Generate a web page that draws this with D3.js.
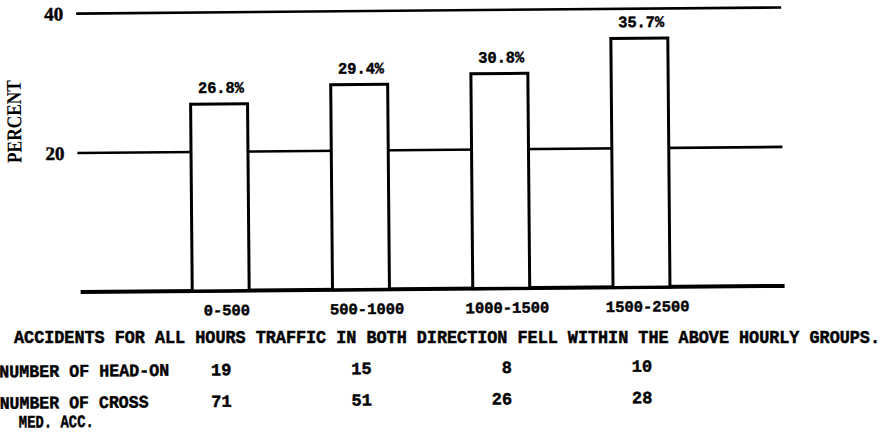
<!DOCTYPE html>
<html>
<head>
<meta charset="utf-8">
<script src="https://cdn.jsdelivr.net/npm/d3@7"></script>
<style>
  body { margin: 0; background: #ffffff; }
  svg { display: block; }
  .type { stroke: #000; stroke-width: 0.45px; }
</style>
</head>
<body>
<div id="chart"></div>
<script>
// data
var categories = ["0-500", "500-1000", "1000-1500", "1500-2500"];
var percents = [26.8, 29.4, 30.8, 35.7];
var headOn = [19, 15, 8, 10];
var crossMed = [71, 51, 26, 28];
var yTicks = [20, 40];

var rowLabels = ["NUMBER OF HEAD-ON", "NUMBER OF CROSS"];
var footNote = "ACCIDENTS FOR ALL HOURS TRAFFIC IN BOTH DIRECTION  FELL WITHIN THE ABOVE HOURLY GROUPS.";

var W = 888, H = 438;
var plot = { left: 78, right: 783, top: 10, bottom: 289 };

var typeFont = "'Liberation Mono', 'DejaVu Sans Mono', monospace";
var serifFont = "'Liberation Serif', 'DejaVu Serif', serif";
var ink = "#000000";

var svg = d3.select("#chart")
    .append("svg")
    .attr("width", W)
    .attr("height", H);

// the scan is slightly tilted, so the chart body gets a small rotation
var g = svg.append("g")
    .attr("transform", "rotate(-0.5, 430, 220)");

var x = d3.scaleBand()
    .domain(categories)
    .range([plot.left, plot.right])
    .paddingInner(0.594)
    .paddingOuter(0.81);

var y = d3.scaleLinear()
    .domain([0, 40])
    .range([plot.bottom, plot.top]);

// horizontal rules at 20 and 40
var yAxis = g.append("g")
    .attr("transform", "translate(" + plot.left + ",0)")
    .call(d3.axisLeft(y)
        .tickValues(yTicks)
        .tickSize(-(plot.right - plot.left))
        .tickPadding(13)
        .tickFormat(d3.format("d")));

yAxis.select(".domain").remove();
yAxis.selectAll(".tick line")
    .attr("stroke", ink)
    .attr("stroke-width", 2.6);
yAxis.selectAll(".tick text")
    .attr("class", "type")
    .attr("fill", ink)
    .attr("dy", "0.35em")
    .style("font-family", serifFont)
    .style("font-weight", "bold")
    .style("font-size", "19px");

// baseline
g.append("line")
    .attr("x1", plot.left + 2)
    .attr("x2", plot.right + 1)
    .attr("y1", y(0))
    .attr("y2", y(0))
    .attr("stroke", ink)
    .attr("stroke-width", 4);

// bars
g.selectAll(".bar")
    .data(percents)
    .enter()
    .append("rect")
    .attr("class", "bar")
    .attr("x", function(d, i) { return x(categories[i]); })
    .attr("y", function(d) { return y(d); })
    .attr("width", x.bandwidth())
    .attr("height", function(d) { return y(0) - y(d); })
    .attr("fill", "#ffffff")
    .attr("stroke", ink)
    .attr("stroke-width", 3);

// value labels above bars
g.selectAll(".val")
    .data(percents)
    .enter()
    .append("text")
    .attr("class", "val type")
    .attr("x", function(d, i) { return x(categories[i]) + x.bandwidth() / 2 + 2; })
    .attr("y", function(d) { return y(d) - 11; })
    .attr("text-anchor", "middle")
    .attr("textLength", 46)
    .attr("lengthAdjust", "spacingAndGlyphs")
    .attr("fill", ink)
    .style("font-family", typeFont)
    .style("font-weight", "bold")
    .style("font-size", "16px")
    .text(function(d) { return d.toFixed(1) + "%"; });

// category labels
g.selectAll(".cat")
    .data(categories)
    .enter()
    .append("text")
    .attr("class", "cat type")
    .attr("x", function(d) { return x(d) + x.bandwidth() / 2 + 6; })
    .attr("y", y(0) + 24.5)
    .attr("text-anchor", "middle")
    .attr("fill", ink)
    .style("font-family", typeFont)
    .style("font-weight", "bold")
    .style("font-size", "15.5px")
    .text(function(d) { return d; });

// y title
g.append("text")
    .attr("transform", "translate(22,118) rotate(-90)")
    .attr("text-anchor", "middle")
    .attr("textLength", 83)
    .attr("lengthAdjust", "spacingAndGlyphs")
    .attr("fill", ink)
    .style("font-family", serifFont)
    .style("font-weight", "bold")
    .style("font-size", "21px")
    .text("PERCENT");

// table rows under the chart
var rows = [headOn, crossMed];
var rowY = [373.5, 405];
var rowLen = [170, 149];

rows.forEach(function(vals, r) {
    g.append("text")
        .attr("class", "type")
        .attr("x", -2)
        .attr("y", rowY[r])
        .attr("textLength", rowLen[r])
        .attr("lengthAdjust", "spacingAndGlyphs")
        .attr("fill", ink)
        .style("font-family", typeFont)
        .style("font-weight", "bold")
        .style("font-size", "17.5px")
        .text(rowLabels[r]);

    g.selectAll(".row" + r)
        .data(vals)
        .enter()
        .append("text")
        .attr("class", "row" + r + " type")
        .attr("x", function(d, i) { return x(categories[i]) + x.bandwidth() / 2 + 10; })
        .attr("y", rowY[r])
        .attr("text-anchor", "end")
        .attr("fill", ink)
        .style("font-family", typeFont)
        .style("font-weight", "bold")
        .style("font-size", "17px")
        .text(function(d) { return d; });
});

g.append("text")
    .attr("class", "type")
    .attr("x", 17)
    .attr("y", 424)
    .attr("textLength", 75)
    .attr("lengthAdjust", "spacingAndGlyphs")
    .attr("fill", ink)
    .style("font-family", typeFont)
    .style("font-weight", "bold")
    .style("font-size", "17.5px")
    .text("MED. ACC.");

// the typed sentence sits level on the page
svg.append("text")
    .attr("class", "type")
    .attr("transform", "translate(14,343) scale(1,1.09)")
    .attr("textLength", 866)
    .attr("lengthAdjust", "spacingAndGlyphs")
    .attr("fill", ink)
    .style("font-family", typeFont)
    .style("font-weight", "bold")
    .style("font-size", "16px")
    .text(footNote);
</script>
</body>
</html>
